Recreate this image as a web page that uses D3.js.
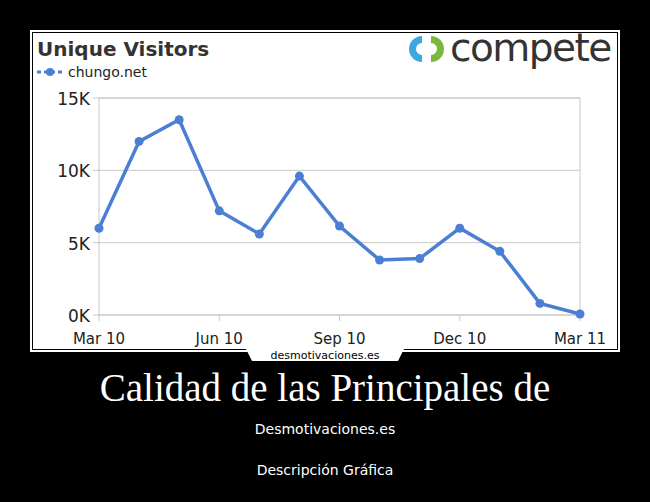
<!DOCTYPE html><html><head><meta charset="utf-8">
<script src="https://cdn.jsdelivr.net/npm/d3@7"></script>
<style>body{margin:0;background:#000}svg{display:block}</style></head><body>
<script>
const months=["Mar 10","Apr 10","May 10","Jun 10","Jul 10","Aug 10","Sep 10","Oct 10","Nov 10","Dec 10","Jan 11","Feb 11","Mar 11"];
const visitors=[6.0,12.0,13.5,7.2,5.6,9.6,6.15,3.8,3.9,6.0,4.4,0.8,0.07];
const yTicks=[0,5,10,15];
const xTickLabels=["Mar 10","Jun 10","Sep 10","Dec 10","Mar 11"];
const svg=d3.select("body").append("svg").attr("width",650).attr("height",502);
svg.append("rect").attr("width",650).attr("height",502).attr("fill","#000");
svg.append("rect").attr("x",30.5).attr("y",30.5).attr("width",589).attr("height",321).attr("fill","#fff").attr("stroke","#fff").attr("stroke-width",1);
svg.append("rect").attr("x",32.5).attr("y",32.5).attr("width",585).attr("height",317).attr("fill","#fff").attr("stroke","#000").attr("stroke-width",1);
const x=d3.scalePoint().domain(months).range([99,580]);
const y=d3.scaleLinear().domain([0,15]).range([315,98]);
const g=svg.append("g");
g.append("rect").attr("x",99).attr("y",98).attr("width",481).attr("height",217).attr("fill","none").attr("stroke","#c8c8c8");
g.selectAll(".gl").data(yTicks).join("line").attr("x1",93).attr("x2",580).attr("y1",d=>y(d)).attr("y2",d=>y(d)).attr("stroke","#c8c8c8");
g.selectAll(".yl").data(yTicks).join("text").attr("x",90).attr("y",d=>y(d)+7).attr("text-anchor","end").attr("font-family","DejaVu Sans").attr("font-size",17).attr("fill","#222").text(d=>d+"K");
g.selectAll(".xl").data(xTickLabels).join("text").attr("x",d=>x(d)).attr("y",344).attr("text-anchor","middle").attr("font-family","DejaVu Sans").attr("font-size",15).attr("fill","#222").text(d=>d);
g.selectAll(".xt").data(xTickLabels).join("line").attr("x1",d=>x(d)).attr("x2",d=>x(d)).attr("y1",315).attr("y2",321).attr("stroke","#c8c8c8");
const line=d3.line().x((d,i)=>x(months[i])).y(d=>y(d));
g.append("path").datum(visitors).attr("d",line).attr("fill","none").attr("stroke","#4a7fd4").attr("stroke-width",3.5);
g.selectAll(".pt").data(visitors).join("circle").attr("cx",(d,i)=>x(months[i])).attr("cy",d=>y(d)).attr("r",4.5).attr("fill","#4a7fd4");
svg.append("text").attr("x",37).attr("y",56).attr("font-family","DejaVu Sans").attr("font-weight","bold").attr("font-size",20).attr("fill","#333").text("Unique Visitors");
svg.append("line").attr("x1",37).attr("x2",63).attr("y1",72).attr("y2",72).attr("stroke","#4a7fd4").attr("stroke-width",3).attr("stroke-dasharray","4,3");
svg.append("circle").attr("cx",50).attr("cy",72).attr("r",4).attr("fill","#4a7fd4");
svg.append("text").attr("x",68).attr("y",77).attr("font-family","DejaVu Sans").attr("font-size",14).attr("fill","#222").text("chungo.net");
svg.append("path").attr("d","M422,36 A13,13 0 0 0 422,62 L422,55 A6,6 0 0 1 422,43 Z").attr("fill","#3da8e0");
svg.append("path").attr("d","M431,36 A13,13 0 0 1 431,62 L431,55 A6,6 0 0 0 431,43 Z").attr("fill","#7ab83c");
svg.append("text").attr("x",450).attr("y",61).attr("font-family","DejaVu Sans").attr("font-size",39).attr("letter-spacing",-1.5).attr("fill","#333").text("compete");
svg.append("path").attr("d","M246,349 L404,349 L398,361 L252,361 Z").attr("fill","#fff");
svg.append("text").attr("x",325).attr("y",359).attr("text-anchor","middle").attr("font-family","DejaVu Sans").attr("font-size",11).attr("fill","#000").text("desmotivaciones.es");
svg.append("text").attr("x",325).attr("y",401).attr("text-anchor","middle").attr("font-family","Liberation Serif").attr("font-size",39).attr("fill","#fff").text("Calidad de las Principales de");
svg.append("text").attr("x",325).attr("y",434).attr("text-anchor","middle").attr("font-family","DejaVu Sans").attr("font-size",14).attr("fill","#fff").text("Desmotivaciones.es");
svg.append("text").attr("x",325).attr("y",475).attr("text-anchor","middle").attr("font-family","DejaVu Sans").attr("font-size",14).attr("fill","#fff").text("Descripción Gráfica");
</script></body></html>
